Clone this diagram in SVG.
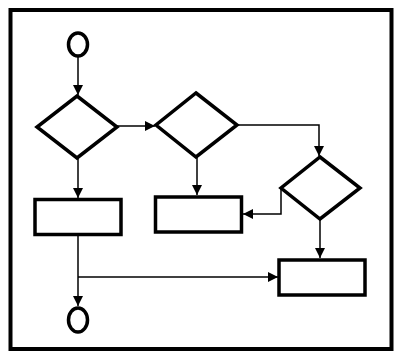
<svg xmlns="http://www.w3.org/2000/svg" width="406" height="361" viewBox="0 0 406 361">
<style>
.shape{fill:#fff;stroke:#000;stroke-width:3.5;stroke-linejoin:miter}
.conn{fill:none;stroke:#000;stroke-width:1.5}
</style>
<defs>
<marker id="arr" viewBox="0 0 10 10" refX="10" refY="5" markerWidth="10" markerHeight="10" markerUnits="userSpaceOnUse" orient="auto">
<path d="M0,0 L10,5 L0,10 Z" fill="#000"/>
</marker>
</defs>
<rect x="0" y="0" width="406" height="361" fill="#fff"/>
<rect id="frame" x="10.5" y="10" width="381" height="339" fill="none" stroke="#000" stroke-width="4"/>
<g id="connectors">
<line class="conn" x1="78" y1="57" x2="78" y2="95" marker-end="url(#arr)"/>
<line class="conn" x1="117" y1="126" x2="155" y2="126" marker-end="url(#arr)"/>
<polyline class="conn" points="237,125 319,125 319,156" marker-end="url(#arr)"/>
<line class="conn" x1="78" y1="158" x2="78" y2="198" marker-end="url(#arr)"/>
<line class="conn" x1="197" y1="157" x2="197" y2="195" marker-end="url(#arr)"/>
<polyline class="conn" points="281,188 281,214 243,214" marker-end="url(#arr)"/>
<line class="conn" x1="320" y1="219" x2="320" y2="258" marker-end="url(#arr)"/>
<line class="conn" x1="78" y1="235" x2="78" y2="306" marker-end="url(#arr)"/>
<line class="conn" x1="78" y1="277" x2="278" y2="277" marker-end="url(#arr)"/>
</g>
<g id="start"><ellipse class="shape" cx="78" cy="44.5" rx="9.5" ry="11.5"/></g>
<g id="decision1"><polygon class="shape" points="77,96 117,127 77,158 37,127"/></g>
<g id="decision2"><polygon class="shape" points="196,93 237,125 196,157 156,125"/></g>
<g id="decision3"><polygon class="shape" points="320,157 360,188 320,219 281,188"/></g>
<g id="process1"><rect class="shape" x="35" y="199.5" width="86" height="35"/></g>
<g id="process2"><rect class="shape" x="155.5" y="197" width="86" height="35"/></g>
<g id="process3"><rect class="shape" x="279" y="260" width="86" height="35"/></g>
<g id="end"><ellipse class="shape" cx="78" cy="320" rx="9.5" ry="12"/></g>
</svg>
